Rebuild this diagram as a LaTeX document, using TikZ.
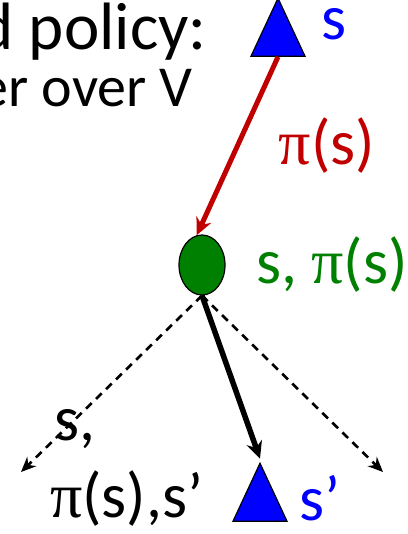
\documentclass[tikz,border=0pt]{standalone}
\usepackage{fontspec}
\setmainfont{Carlito}
\newfontfamily\greekfont{Liberation Serif}
\usetikzlibrary{arrows.meta, shapes.geometric, positioning}
\definecolor{stblue}{RGB}{0, 0, 255}
\definecolor{qgreen}{RGB}{0, 128, 0}
\definecolor{polred}{RGB}{192, 0, 0}
\newcommand{\pisym}{{\greekfont\char"03C0}}

\begin{document}
\begin{tikzpicture}[
    x=1pt, y=-1pt,
    big/.style   = {font=\fontsize{67}{72}\selectfont, inner sep=0pt},
    lbl/.style   = {font=\fontsize{64}{68}\selectfont, inner sep=0pt},
    state/.style = {isosceles triangle, isosceles triangle stretches, shape border rotate=90,
                    minimum width=54pt, minimum height=58pt, inner sep=0pt,
                    draw=black, line width=1.2pt, fill=stblue},
    qst/.style   = {ellipse, draw=black, line width=1.2pt, fill=qgreen,
                    minimum width=46pt, minimum height=60pt, inner sep=0pt},
    pol/.style   = {-{Stealth[length=17pt, width=16pt]}, color=polred, line width=5pt},
    trans/.style = {-{Stealth[length=17pt, width=16pt]}, color=black, line width=5.5pt},
    alt/.style   = {-{Stealth[length=15pt, width=13pt]}, color=black, line width=2.6pt,
                    dash pattern=on 8pt off 6pt},
  ]
    \useasboundingbox (0,0) rectangle (407,534);
    \clip (0,0) rectangle (407,534);

    % title, cut at the left edge
    \node[big, anchor=base east] (ttl) at (207,50) {d policy:};
    \node[big, font=\fontsize{58}{62}\selectfont, anchor=base east] (sub) at (193,107) {er over V};

    % --- nodes ---
    \node[state] (s) at (278,39) {};
    \node[lbl, anchor=base west, text=stblue, text height=0.45em] (sl) at (321,40) {s};

    \node[qst] (q) at (202,265) {};
    \node[lbl, anchor=west, text=qgreen] (ql) at (256,265) {s, \pisym(s)};

    \node[state] (sp) at (260,504) {};
    \node[lbl, anchor=base west, text=stblue] (spl) at (299,520) {s’};

    \coordinate (lft) at (21,472);
    \coordinate (rgt) at (383,472);

    % --- connectors ---
    \draw[pol] (s.south) -- (q.100) node[lbl, midway, right=39pt, text=polred] (pl) {\pisym(s)};
    \draw[alt] (q.south) -- (lft);
    \draw[alt] (q.south) -- (rgt);
    \draw[trans] (q.south) -- ([yshift=3pt]sp.north);

    % transition label
    \node[lbl, anchor=base west] (tl1) at (54,440) {s,};
    \node[lbl, anchor=base west] (tl2) at (50,517) {\pisym(s),s’};

  \end{tikzpicture}
\end{document}
